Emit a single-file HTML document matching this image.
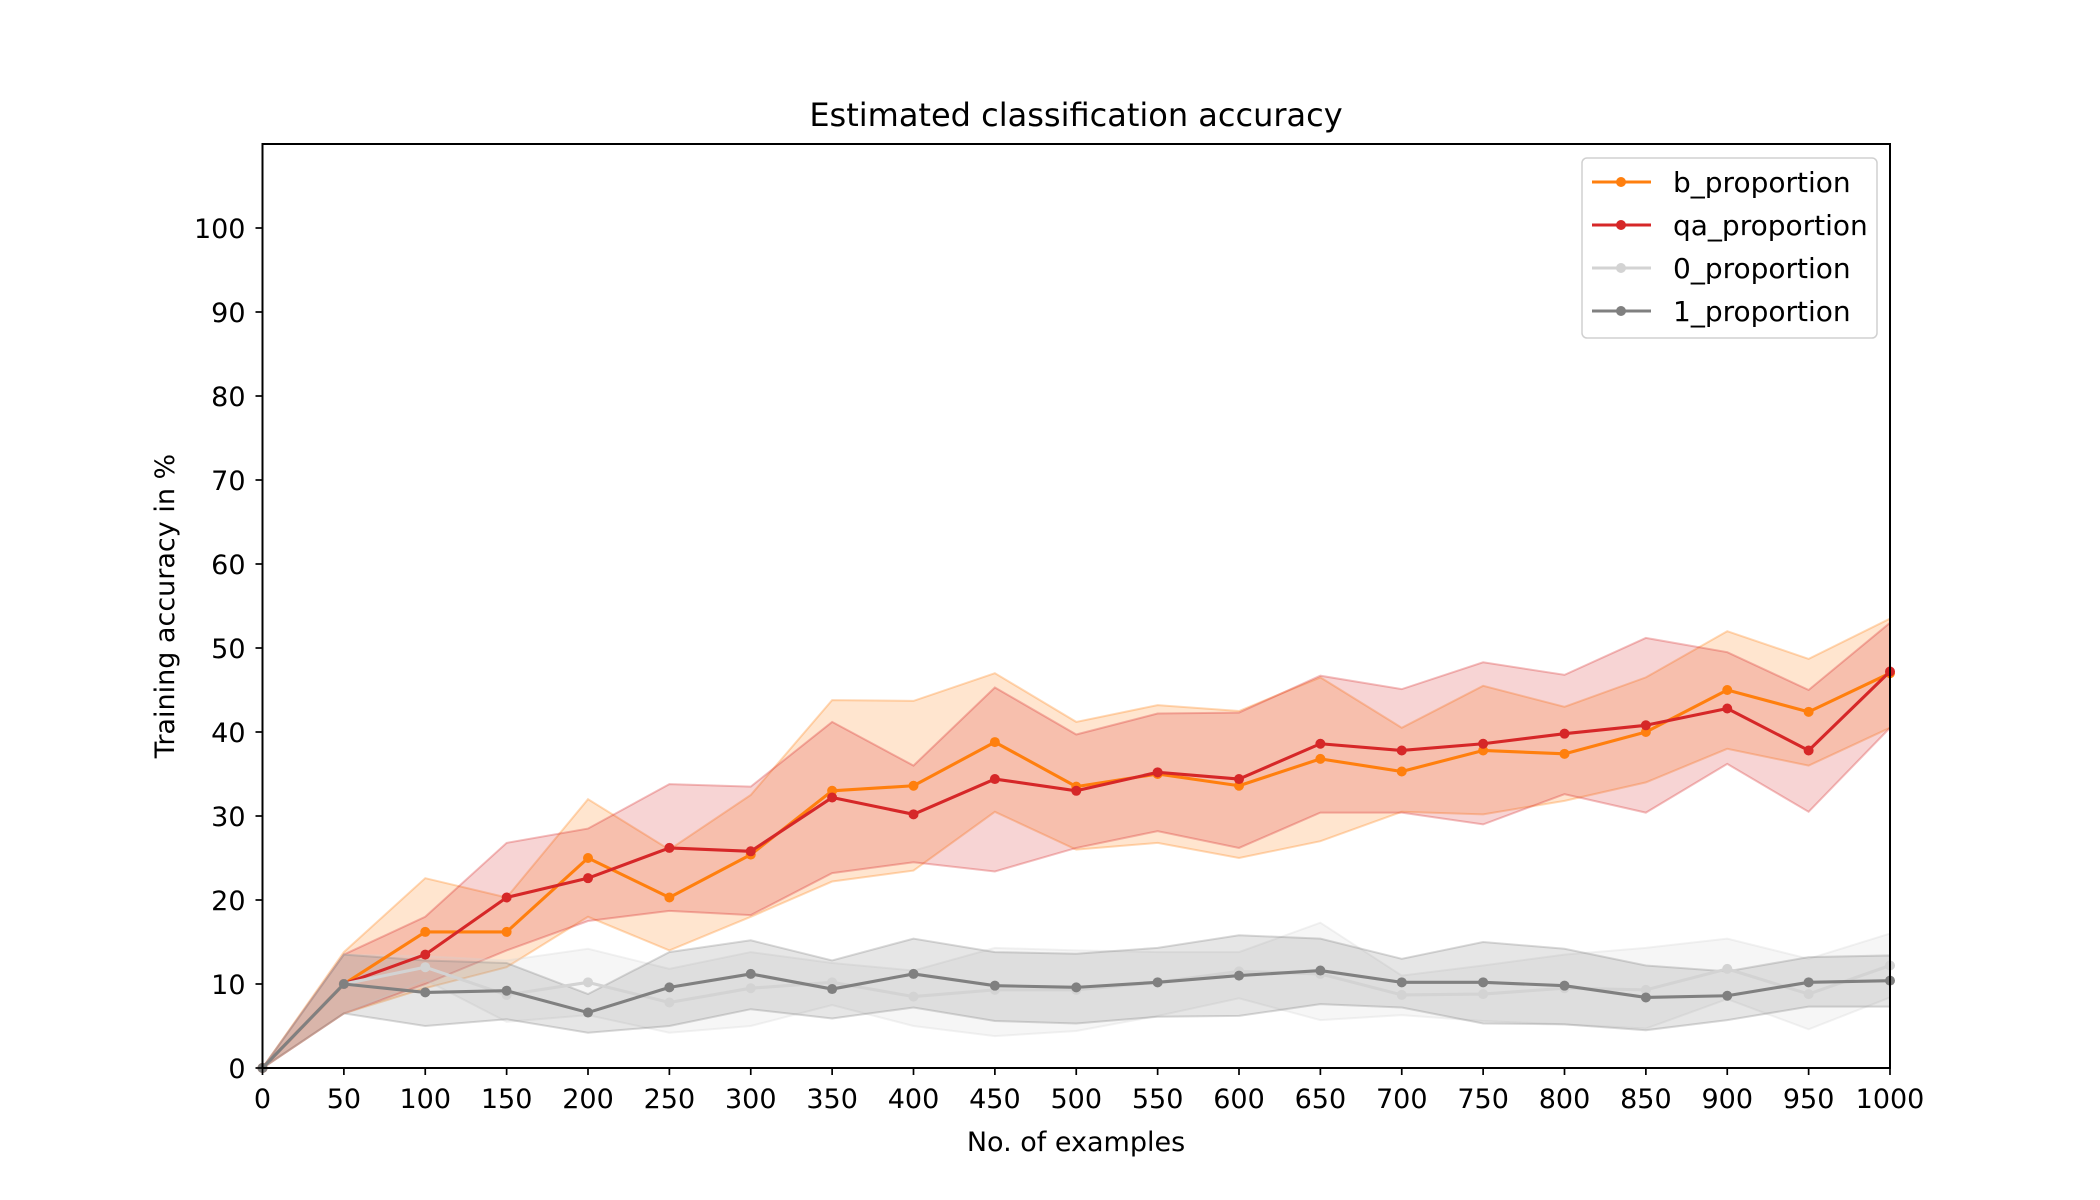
<!DOCTYPE html>
<html><head><meta charset="utf-8"><style>
html,body{margin:0;padding:0;background:#fff;}
svg{display:block;font-family:"DejaVu Sans","Liberation Sans",sans-serif;}
</style></head><body>
<svg id="chart" width="2100" height="1200" viewBox="0 0 2100 1200" xmlns="http://www.w3.org/2000/svg">
<rect width="2100" height="1200" fill="#fff"/>
<g id="bands"></g>
<g id="lines"></g>
<g id="axes"></g>
<text x="1076" y="126" font-size="32" text-anchor="middle">Estimated classification accuracy</text>
<text x="1076" y="1151" font-size="27" text-anchor="middle">No. of examples</text>
<text x="174" y="606" font-size="27" text-anchor="middle" transform="rotate(-90 174 606)">Training accuracy in %</text>
<g id="legend"></g>
</svg>
<script>
const categories=[0,50,100,150,200,250,300,350,400,450,500,550,600,650,700,750,800,850,900,950,1000];
const xTicks=[0,50,100,150,200,250,300,350,400,450,500,550,600,650,700,750,800,850,900,950,1000];
const yTicks=[0,10,20,30,40,50,60,70,80,90,100];
const bMean=[0,10,16.2,16.2,25,20.3,25.4,33,33.6,38.8,33.5,35,33.6,36.8,35.3,37.8,37.4,40,45,42.4,47];
const bUpper=[0,13.8,22.6,20.3,32,26,32.5,43.8,43.7,47,41.2,43.2,42.5,46.5,40.5,45.5,43,46.5,52,48.7,53.5];
const bLower=[0,6.5,9.5,12,18,14,18,22.2,23.5,30.5,26,26.8,25,27,30.5,30.2,31.8,34,38,36,40.5];
const qaMean=[0,10,13.5,20.3,22.6,26.2,25.8,32.2,30.2,34.4,33,35.2,34.4,38.6,37.8,38.6,39.8,40.8,42.8,37.8,47.2];
const qaUpper=[0,13.5,18,26.8,28.5,33.8,33.5,41.2,36,45.3,39.7,42.2,42.3,46.7,45.1,48.3,46.8,51.2,49.5,45,53];
const qaLower=[0,6.5,10,14,17.5,18.7,18.2,23.2,24.5,23.4,26.2,28.2,26.2,30.4,30.4,29,32.6,30.4,36.2,30.5,40.5];
const p0Mean=[0,10,12,8.7,10.2,7.8,9.5,10.2,8.5,9.3,9.3,10.2,11.5,11.2,8.7,8.8,9.5,9.3,11.8,8.8,12.2];
const p0Upper=[0,13.5,13.3,12.8,14.2,11.8,13.8,12.5,11.6,14.3,14,13.8,13.8,17.3,11,12.2,13.5,14.3,15.4,13,16];
const p0Lower=[0,6.5,10.5,5.5,6.3,4.2,5,7.5,5,3.8,4.4,6.2,8.3,5.7,6.3,5.6,5.2,4.7,8.2,4.6,8.4];
const p1Mean=[0,10,9,9.2,6.6,9.6,11.2,9.4,11.2,9.8,9.6,10.2,11,11.6,10.2,10.2,9.8,8.4,8.6,10.2,10.4];
const p1Upper=[0,13.5,12.8,12.5,8.8,13.8,15.2,12.8,15.4,13.8,13.6,14.3,15.8,15.4,13,15,14.2,12.2,11.5,13.2,13.4];
const p1Lower=[0,6.5,5,5.8,4.2,5,7,5.9,7.2,5.6,5.3,6.1,6.2,7.6,7.2,5.3,5.2,4.5,5.7,7.3,7.3];
const seriesNames=["b_proportion","qa_proportion","0_proportion","1_proportion"];

const NS="http://www.w3.org/2000/svg";
const L=262.5,R=1890,T=144,B=1068,XMAX=1000,YMAX=110;
function sx(v){return L+(v/XMAX)*(R-L);}
function sy(v){return B-(v/YMAX)*(B-T);}
function mk(tag,attrs,parent){const e=document.createElementNS(NS,tag);for(const k in attrs)e.setAttribute(k,attrs[k]);parent.appendChild(e);return e;}

const series=[
 {name:seriesNames[0],mean:bMean,up:bUpper,lo:bLower,color:"#ff7f0e",key:"b"},
 {name:seriesNames[1],mean:qaMean,up:qaUpper,lo:qaLower,color:"#d62728",key:"qa"},
 {name:seriesNames[2],mean:p0Mean,up:p0Upper,lo:p0Lower,color:"#d3d3d3",key:"p0"},
 {name:seriesNames[3],mean:p1Mean,up:p1Upper,lo:p1Lower,color:"#808080",key:"p1"}
];
const bands=document.getElementById('bands'),lines=document.getElementById('lines'),axes=document.getElementById('axes'),legend=document.getElementById('legend');

series.forEach(s=>{
  let pts=categories.map((c,i)=>sx(c)+','+sy(s.up[i]));
  for(let i=categories.length-1;i>=0;i--)pts.push(sx(categories[i])+','+sy(s.lo[i]));
  const p=mk('polygon',{points:pts.join(' '),fill:s.color,'fill-opacity':0.2,stroke:s.color,'stroke-opacity':0.3,'stroke-width':2},bands);
  
  
});
series.forEach(s=>{
  const pl=mk('polyline',{points:categories.map((c,i)=>sx(c)+','+sy(s.mean[i])).join(' '),fill:'none',stroke:s.color,'stroke-width':3.1,'stroke-linejoin':'round'},lines);
  
  
  categories.forEach((c,i)=>{
    const d=mk('circle',{cx:sx(c),cy:sy(s.mean[i]),r:5,fill:s.color},lines);
    
    
  });
});
const fr=mk('rect',{x:L,y:T,width:R-L,height:B-T,fill:'none',stroke:'#000','stroke-width':2},axes);


xTicks.forEach(v=>{
  const t=mk('line',{x1:sx(v),x2:sx(v),y1:B,y2:B+7,stroke:'#000','stroke-width':1.7},axes);
  
  
  const lb=mk('text',{x:sx(v),y:B+40,'font-size':27,'text-anchor':'middle'},axes);
  lb.textContent=v;
  
  
});
yTicks.forEach(v=>{
  const t=mk('line',{x1:L-7,x2:L,y1:sy(v),y2:sy(v),stroke:'#000','stroke-width':1.7},axes);
  
  
  const lb=mk('text',{x:L-17,y:sy(v)+10,'font-size':27,'text-anchor':'end'},axes);
  lb.textContent=v;
  
  
});
const lbx=mk('rect',{x:1582,y:158,width:295,height:180,rx:5,fill:'#fff','fill-opacity':0.8,stroke:'#d0d0d0','stroke-width':1.5},legend);


series.forEach((s,i)=>{
  const y=182+i*43;
  const g=mk('g',{},legend);
  
  
  mk('line',{x1:1592,x2:1651,y1:y,y2:y,stroke:s.color,'stroke-width':3.1},g);
  mk('circle',{cx:1621,cy:y,r:5,fill:s.color},g);
  const t=mk('text',{x:1673,y:y+10,'font-size':28},g);
  t.textContent=s.name;
});
</script>
</body></html>
